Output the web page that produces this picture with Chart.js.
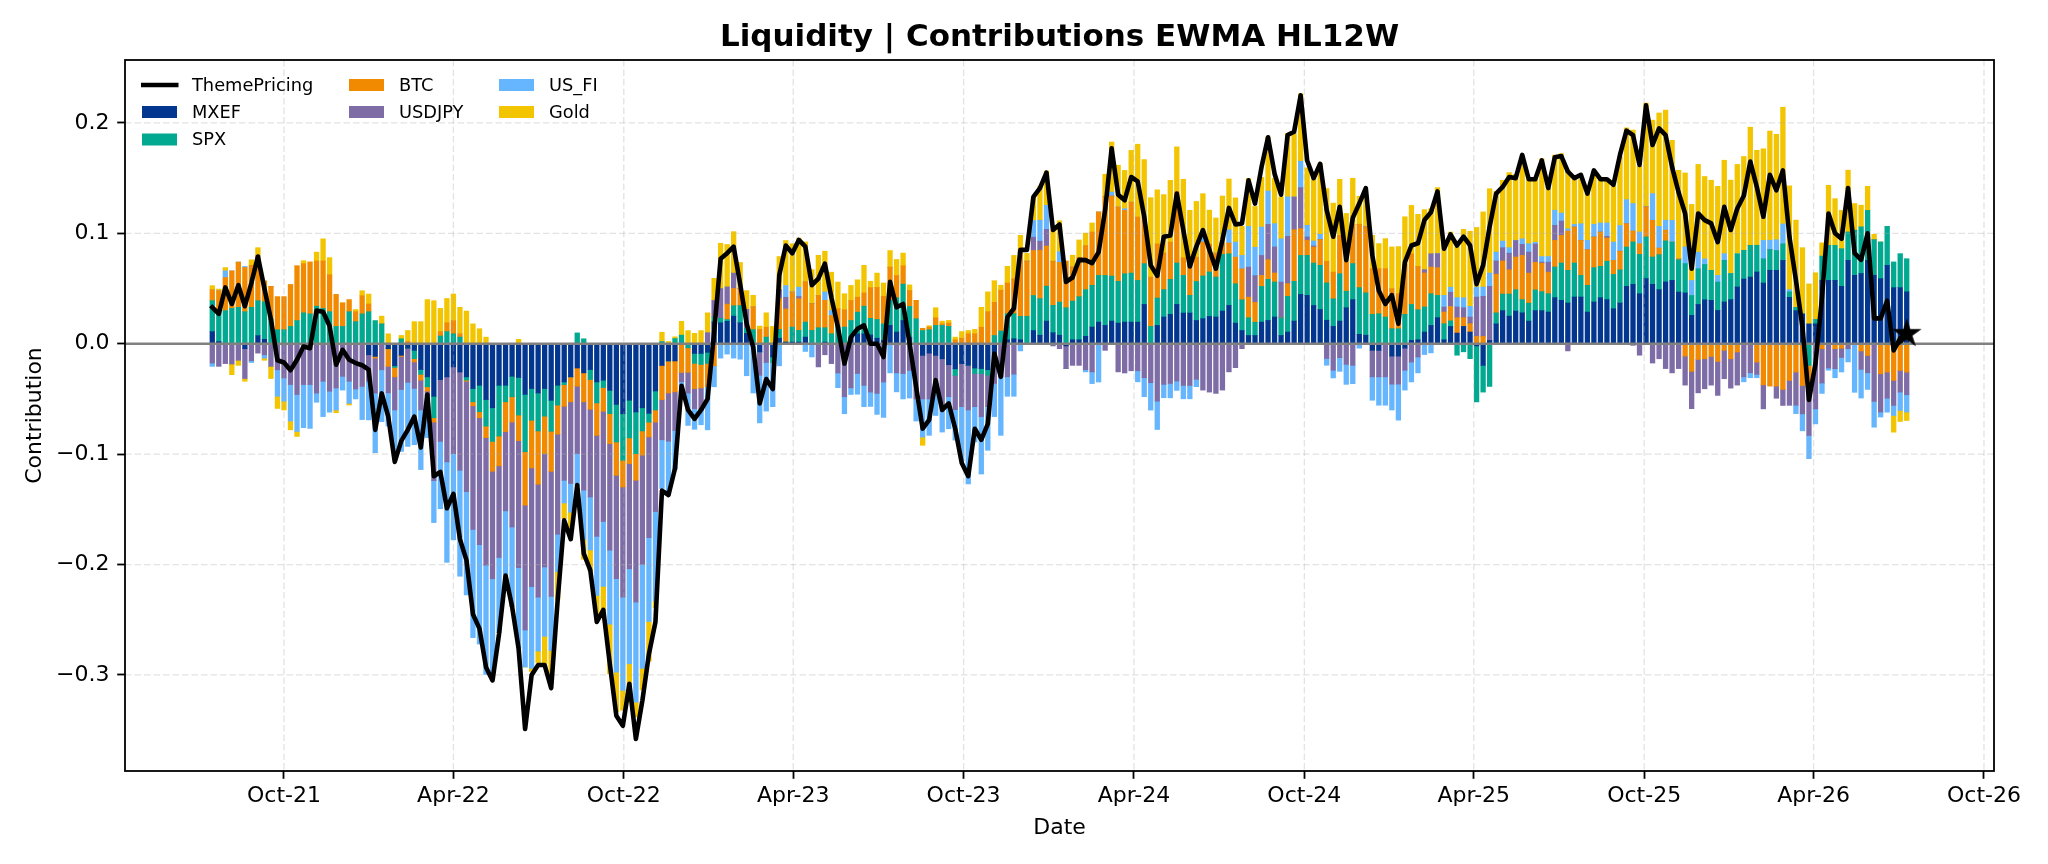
<!DOCTYPE html>
<html><head><meta charset="utf-8">
<script src="https://cdn.jsdelivr.net/npm/chart.js@4.4.1/dist/chart.umd.min.js"></script>
<style>html,body{margin:0;padding:0;background:#fff;}canvas{display:block;}</style>
</head><body>
<canvas id="c" width="2048" height="864"></canvas>
<script>
// ---- categories (weekly observations) ----
const startDate = '2021-07-16';
const weekCount = 261;

// ---- series values (contributions) ----
const mxef = [.011,.002,0,0,0,-.0045,0,.0073,.004,0,
0,0,0,0,0,0,0,0,0,0,
0,0,0,0,-.010,-.0115,0,-.0045,-.020,-.0105,
-.004,-.006,-.0234,-.030,-.0476,-.0325,-.030,-.021,-.0256,-.030,
-.0406,-.0376,-.0506,-.058,-.0376,-.0376,-.0295,-.0306,-.0458,-.0406,
-.0446,-.0406,-.0512,-.0376,-.0346,-.030,-.022,-.0264,-.0234,-.0346,
-.033,-.0422,-.055,-.0634,-.0512,-.0618,-.058,-.063,-.0428,-.0197,
-.0156,-.0156,0,0,-.0088,-.0088,-.0078,.0197,.019,.0203,
.025,.019,.0094,0,-.0074,0,-.012,.005,.0015,.0015,
.0015,.006,0,0,.0015,0,0,0,.006,.009,
.009,.008,.005,.003,.0166,.0106,.021,.006,0,-.0106,
-.0085,-.0106,-.0136,-.019,-.0227,-.018,-.0195,-.022,-.0225,-.0235,
-.018,0,.0036,.0045,.0036,0,.012,.0077,.0205,.010,
.0077,-.002,.0036,.0036,.0067,.0151,.0196,.0166,.0205,.0187,
.0196,.0196,.0196,.0356,0,.0166,.0242,.0266,.0356,.0278,
.0278,.0211,.0227,.0248,.0242,.0296,.0347,.0187,.012,.0075,
.0075,.0196,.0211,.0242,.0075,.0106,.0205,.0447,.0438,.0347,
.031,.0213,.0157,.0205,.0326,.040,.0085,.0077,-.006,-.006,
0,-.0112,-.0112,-.004,.003,.0036,.0106,.0166,.0236,.0036,
.0157,.0097,.0157,.0106,-.002,-.0196,.003,.018,.030,.025,
.0296,.028,.0205,.030,.030,.0287,.0417,.0393,.0369,.0423,
.0423,.0287,.0378,.0417,.040,.0317,.0369,.052,.0538,.0453,
.059,.0538,.049,.056,.0574,.0468,.046,.0257,.0356,.0398,
.0393,.0302,.0378,.040,.0514,.0586,.0604,.065,.055,.0665,
.0665,.0755,.042,.030,.027,.018,.018,.0574,.0574,.0574,
.052,.0755,.062,.0636,.0755,.062,.059,.071,.0508,.0508,
.047];

const spx = [.028,.027,.030,.032,.033,.029,.033,.0317,.034,.022,
.0127,.0127,.0157,.021,.028,.027,.034,.032,.029,.0157,
.0157,.029,.020,.027,.029,.021,.018,0,-.0015,.0045,
0,-.0075,-.0043,-.009,-.0194,.007,.011,.009,.006,-.003,
-.012,-.024,-.024,-.0305,-.046,-.015,-.0185,-.034,-.052,-.0287,
-.0344,-.025,-.0281,-.018,-.0024,0,.0098,.0045,-.009,-.019,
-.0067,-.0211,-.034,-.0422,-.0341,-.0377,-.021,-.008,-.0172,.002,
0,.0047,.0078,-.0037,-.009,-.010,-.010,.0045,.004,.0016,
.0094,.0156,.0047,.0128,0,.006,-.005,.008,0,.0136,
.0106,.0136,.0121,.0145,.013,.009,.0151,.0151,.0151,.0196,
.025,.015,.017,.015,.0227,.031,.033,.0278,.0227,.012,
.0127,.0166,.0166,.0157,-.006,0,0,-.005,-.0045,-.005,
.0075,.0115,.0236,.0227,.0212,.0248,.0317,.0332,.0317,.0248,
.030,.0326,.035,.039,.0423,.0378,.0423,.0453,.0408,.0378,
.0438,.0444,.0378,.0369,.0157,.0248,.0248,.0317,.0375,.0341,
.016,.0353,.0387,.0402,.0362,.0513,.0468,.0356,.0278,.016,
.012,.0323,.0372,.0317,.016,.0323,.036,.0353,.0363,.0384,
.040,.0338,.025,.0429,.015,.0326,.0423,.0384,.0266,.0272,
.0242,.0136,.0136,.0266,.0326,.0272,.0227,.0287,.0202,.0145,
.005,-.0104,-.0073,-.0135,-.0507,-.0242,-.0387,.010,.015,.020,
.0193,.012,.0163,.0187,.0172,.0166,.0278,.0338,.0296,.0308,
.0196,.0242,.0311,.0284,.0347,.0311,.030,.0356,.0384,.0356,
.0378,.0248,.0317,.0372,.0347,.0293,.0266,.018,.0323,.032,
.0272,.0257,.0378,.0236,.030,.026,.0287,.0242,.022,.0187,
.018,.015,.005,.003,0,-.0196,.004,.022,.0317,.0317,
.0341,.0257,.0408,.0423,.0453,.0323,.0332,.0353,.0233,.0308,
.030];

const btc = [.010,.019,.030,.034,.041,.040,.038,.041,.019,.030,
.030,.030,.038,.0497,.0445,.047,.041,.043,.0335,.029,
.0213,.011,.009,.0165,.007,-.0015,0,-.016,-.0085,-.001,
.002,-.003,-.0053,-.004,-.004,.004,.008,.012,.003,-.001,
-.0036,-.0054,-.0105,-.027,-.027,-.027,-.023,-.0232,-.0485,-.0432,
-.0483,-.0338,-.0363,-.0263,-.0197,-.0226,-.0165,-.0262,-.027,-.0294,
-.0215,-.0272,-.0302,-.0242,-.0233,-.0242,-.022,-.0134,-.011,-.031,
-.029,-.028,-.026,-.0222,-.0228,-.0212,-.0212,-.020,0,.014,
.0156,.0156,0,.0205,.013,.009,0,.028,.030,.0317,
.0287,.0363,.0242,.0293,.0248,.0166,.0166,.0157,.0181,.0136,
.012,.0278,.029,.025,.030,.0202,.0166,.0145,.0166,.002,
.0024,.0069,.0015,.003,.0036,.005,.009,.009,.015,.029,
.030,.037,.0278,.0317,.0583,.050,.0408,.0438,.0363,.040,
.036,.0424,.031,.0357,.040,.0483,.0574,.0716,.0725,.0674,
.0574,.0643,.0574,.0423,.0447,.049,.0332,.0338,.0644,.016,
.0287,.022,.0308,.025,.0218,.0103,.0097,.0242,.0281,.0187,
.018,.010,.0178,.0082,0,.0115,.0468,.0242,.0136,.0145,
.0233,.0196,.0242,.0347,.0264,.0353,.0574,.0598,.0414,.0408,
.0438,.0363,.0317,.045,.0459,.0393,.0308,.0242,.0251,.0106,
.013,.0139,.0079,.0076,.0066,.0066,0,.035,.030,.022,
.0296,.040,.0272,.025,.0257,.0196,.0242,.025,.0356,.0326,
.0317,.0323,.0278,.0311,.0211,.0127,.0169,.0211,.010,.0097,
.0272,.0332,.006,.0097,0,.001,-.0112,-.025,-.0142,-.0136,
-.0115,-.016,-.006,-.0136,-.0075,0,0,-.0166,-.0372,-.0384,
-.0384,-.0414,-.0332,-.0257,-.0378,-.0182,0,-.0045,0,-.0045,
-.004,0,0,-.0066,-.0106,0,-.0272,-.0257,-.0332,-.0242,
-.0257];

const usdjpy = [-.0175,-.0205,-.018,-.0184,-.015,-.027,-.0154,-.0085,-.010,-.0205,
-.0236,-.031,-.037,-.046,-.037,-.037,-.0447,-.034,-.043,-.040,
-.0296,-.034,-.041,-.0387,-.024,-.0317,-.0236,-.024,-.030,-.030,
-.031,-.024,-.027,-.004,-.053,-.056,-.077,-.0786,-.089,-.100,
-.112,-.115,-.1155,-.0974,-.083,-.0718,-.095,-.115,-.113,-.1075,
-.1022,-.1028,-.1133,-.0907,-.067,-.074,-.061,-.080,-.0794,-.0915,
-.0998,-.0965,-.0936,-.0997,-.0952,-.1103,-.099,-.0912,-.081,-.0363,
-.0437,-.035,-.0085,-.0188,-.0182,-.020,.010,.015,.027,.0156,
.014,0,.017,0,-.0212,-.017,0,.008,.0106,0,
.002,0,0,-.021,-.010,-.018,-.0265,-.048,-.040,-.027,
-.0377,-.0438,-.045,-.0347,0,-.0264,-.027,-.0242,-.050,-.0394,
-.0415,-.0272,-.0414,-.029,-.031,-.039,-.0405,-.030,-.039,-.0285,
-.018,-.030,-.030,-.0276,0,0,.012,.0082,.0151,-.002,
-.0045,-.0206,-.0196,-.0196,-.0235,-.0255,0,-.006,0,-.0255,
-.0265,-.0245,-.0245,-.0308,-.0353,-.052,-.0368,-.036,-.0338,-.0378,
-.0378,-.0323,-.042,-.0438,-.045,-.042,-.0255,-.0217,-.0045,.0272,
.0242,.0181,.032,.0236,.0323,.0429,.0296,.0372,.003,.001,
0,-.0134,-.024,-.0126,-.0187,-.0196,0,0,-.024,-.024,
-.030,-.0254,-.0254,-.020,-.0166,-.012,.003,.012,.0127,.0045,
.013,.0097,.009,.006,.0357,.0363,.049,.012,.012,.015,
.015,.010,.019,.0166,.001,.009,.0136,.013,-.0065,0,
0,0,0,0,.0015,0,0,0,-.0015,-.0104,
0,-.0175,-.0136,-.0225,-.0264,-.0225,-.0263,-.0338,-.0303,-.0272,
-.026,-.0308,-.0257,-.0266,-.030,-.030,-.0263,-.0112,-.0218,0,
-.011,-.0145,-.0226,-.030,-.0257,-.0453,-.059,-.0311,-.022,-.0181,
-.0085,-.0045,0,-.0166,-.0157,-.0523,-.0347,-.0236,-.0227,-.0196,
-.0205];

const usFi = [-.003,0,.006,0,0,.001,-.0016,0,-.003,0,
-.024,-.021,-.033,-.0335,-.039,-.0397,-.0083,-.032,-.019,-.020,
-.0124,-.020,-.009,-.030,-.035,-.054,-.047,-.030,-.045,-.056,
-.058,-.051,-.054,-.038,-.038,-.061,-.091,-.078,-.096,-.0935,
-.098,-.090,-.099,-.089,-.068,-.058,-.072,-.073,-.0335,-.074,
-.0489,-.0628,-.049,-.034,-.0206,-.026,-.0285,-.0446,-.048,-.0535,
-.0588,-.067,-.0847,-.0845,-.0861,-.0906,-.094,-.076,-.081,-.0441,
-.0486,-.0352,-.006,-.0293,-.0187,-.0134,-.039,-.019,-.013,-.0094,
-.013,-.014,-.029,-.0446,-.0431,-.044,-.040,-.02,.0106,0,
.0085,-.007,-.012,0,.0076,.0045,-.0133,-.0154,-.006,-.0187,
-.0193,-.013,-.019,-.032,-.0264,-.0172,-.023,-.025,-.020,-.0346,
-.033,-.0272,-.025,-.029,-.0276,-.049,-.067,-.032,-.052,-.0395,
-.030,-.053,-.0176,-.020,-.0065,0,.0151,.019,.0218,0,
.0097,0,0,0,-.002,-.0106,-.0347,0,.0036,0,
.0015,0,-.010,-.0172,-.0248,-.0257,-.0121,-.013,-.0085,-.0121,
-.0121,-.0066,.005,0,0,0,.012,.0136,.0121,.0369,
.0257,.0257,.0302,.0211,.0393,.0357,0,.0239,.0106,.0045,
.0048,-.0061,-.007,-.0124,-.0181,-.0166,-.004,0,-.0212,-.0257,
-.0257,-.0234,-.0326,-.018,-.018,-.0144,-.0098,-.0083,0,.0106,
.0045,.0085,.009,.0097,.009,.0085,.012,.008,.006,.005,
0,.005,.0076,.0015,.0051,.0051,.0136,.0073,.002,.0024,
.0151,.0085,.0115,.0082,.0121,.0166,.0233,.0218,.0248,.0106,
0,.0242,.0196,.009,.0196,0,.0151,.0136,.0151,.0051,
0,.006,.006,0,0,-.0045,-.0045,-.003,.0166,.0085,
.0097,.018,.002,-.0076,-.0154,-.021,-.0136,-.0094,-.002,-.0082,
-.0131,-.012,-.044,-.026,-.0151,-.0233,-.0045,-.0127,-.0091,-.0166,
-.0157];

const gold = [.0036,.0015,.003,-.0096,-.0046,-.0025,.005,.007,-.002,-.011,
-.011,-.008,-.008,-.0045,.0027,0,.008,.020,.0155,-.0025,
0,-.0015,.002,.0045,.009,0,.007,.009,0,.003,
.010,.020,.020,.040,.039,.021,.022,.024,.024,.0296,
.018,.0136,.006,0,0,0,0,.004,0,-.003,
-.0106,-.025,-.030,-.025,-.0141,-.017,0,-.018,-.019,-.022,
-.0217,-.045,-.036,-.018,-.0347,-.0134,-.0195,-.036,-.006,.0084,
.002,.0016,.0125,.0119,.0094,.0119,.018,.020,.041,.0384,
.0375,.0234,.017,.0106,.003,.013,.0157,.03,.0408,.0438,
.0444,.0363,.0308,.0363,.0369,.0347,.0242,.0145,.0136,.0157,
.025,.0058,.013,.012,.0151,.0145,.0115,.005,0,-.0074,
.0012,.0091,.0024,.0024,.0024,.006,.003,.004,.018,.018,
.0196,.0045,.0151,.0211,.0151,.007,.0211,.0308,.031,.028,
.028,0,.0106,.0157,.0112,.0082,0,.020,.0453,.0378,
.0347,.0468,.0659,.052,.0719,.049,.0529,.0559,.0408,.071,
.0483,.0505,.0387,.031,.0317,.0426,.046,.040,.0263,.0432,
.0369,.045,.049,.041,.0378,.0574,.0574,.061,.052,.0604,
.064,.0659,.0625,.0508,.044,.042,.0254,.0278,.0302,.0227,
.0272,.0378,.0427,.0434,.0438,.0471,.0544,.0408,.0598,.050,
.050,.046,.062,.068,.054,.068,.0764,.055,.055,.068,
.060,.072,.058,.0565,.0885,.063,.050,.0538,.0529,.0414,
.040,.0423,.048,.040,.040,.0505,.0625,.065,.0665,.0595,
.094,.0665,.1027,.0997,.0725,.080,.067,.0689,.0794,.0746,
.0816,.0807,.0846,.0846,.081,.085,.107,.086,.083,.099,
.0955,.1057,.094,.079,.060,.0362,.0423,.012,.0544,.0423,
.0347,.056,.0242,.0196,.0218,.0048,0,0,-.0151,-.010,
-.0076];

const themePricing = [.033,.027,.051,.036,.053,.034,.055,.079,.050,.022,
-.015,-.017,-.024,-.0145,-.0025,-.004,.030,.029,.016,-.019,
-.0055,-.0145,-.0175,-.0195,-.0235,-.078,-.045,-.066,-.107,-.088,
-.078,-.066,-.094,-.046,-.12,-.116,-.149,-.136,-.177,-.196,
-.245,-.258,-.293,-.305,-.263,-.21,-.238,-.276,-.349,-.30,
-.291,-.291,-.312,-.232,-.16,-.177,-.128,-.19,-.205,-.252,
-.241,-.29,-.337,-.346,-.308,-.358,-.323,-.281,-.252,-.133,
-.137,-.113,-.038,-.060,-.068,-.060,-.050,.01,.077,.082,
.088,.054,.018,-.003,-.054,-.032,-.041,.062,.089,.082,
.094,.088,.053,.059,.0725,.042,.015,-.018,.006,.0135,
.0166,0,0,-.012,.056,.033,.036,0,-.039,-.077,
-.069,-.033,-.060,-.054,-.077,-.108,-.120,-.077,-.087,-.0725,
-.009,-.030,.024,.032,.085,.085,.133,.141,.155,.103,
.108,.056,.060,.076,.0757,.073,.083,.121,.177,.135,
.130,.151,.147,.115,.071,.0615,.097,.098,.136,.103,
.070,.088,.103,.085,.068,.094,.123,.108,.109,.148,
.127,.160,.187,.154,.135,.189,.192,.225,.166,.150,
.163,.121,.097,.124,.0757,.114,.127,.141,.08,.048,
.036,.044,.018,.074,.089,.091,.112,.119,.138,.086,
.099,.089,.097,.089,.054,.071,.106,.136,.142,.151,
.150,.171,.149,.149,.166,.141,.169,.170,.156,.150,
.153,.136,.157,.149,.149,.144,.171,.193,.189,.162,
.216,.180,.195,.189,.160,.137,.118,.068,.118,.112,
.109,.092,.124,.103,.1225,.134,.165,.142,.115,.153,
.139,.157,.097,.0575,.015,-.051,-.018,.042,.118,.100,
.095,.141,.082,.076,.100,.023,.023,.039,-.006,.005,
.009];

// ---- tick labels ----
const xTickDates = ['2021-10-01','2022-04-01','2022-10-01','2023-04-01','2023-10-01','2024-04-01','2024-10-01','2025-04-01','2025-10-01','2026-04-01','2026-10-01'];
const xTickLabels = ['Oct-21','Apr-22','Oct-22','Apr-23','Oct-23','Apr-24','Oct-24','Apr-25','Oct-25','Apr-26','Oct-26'];
const yTicks = [-0.3,-0.2,-0.1,0.0,0.1,0.2];

// ---- helpers ----
const DAY = 86400000;
const toDay = s => Date.UTC(+s.slice(0,4), +s.slice(5,7)-1, +s.slice(8,10)) / DAY;
const startDay = toDay(startDate);
const barDays = Array.from({length: weekCount}, (_, i) => startDay + 7 * i);
const tickDays = xTickDates.map(toDay);
const barWidthDays = 5;
const padDays = 0.05 * (barDays[weekCount-1] - barDays[0] + barWidthDays) + barWidthDays / 2;

const colors = {MXEF:'#03378F', SPX:'#00A98F', BTC:'#F18A00', USDJPY:'#7E6CA7', US_FI:'#65B6FE', Gold:'#F2C500'};
const series = [['MXEF', mxef], ['SPX', spx], ['BTC', btc], ['USDJPY', usdjpy], ['US_FI', usFi], ['Gold', gold]];

const starImg = (() => {
  const c = document.createElement('canvas'); c.width = 32; c.height = 32;
  const g = c.getContext('2d');
  const R = 13, r = R * 0.381966;
  g.beginPath();
  for (let k = 0; k < 10; k++) {
    const a = -Math.PI / 2 + k * Math.PI / 5;
    const rr = k % 2 === 0 ? R : r;
    const px = 16 + rr * Math.cos(a), py = 16 + rr * Math.sin(a);
    if (k === 0) g.moveTo(px, py); else g.lineTo(px, py);
  }
  g.closePath(); g.fillStyle = '#000'; g.fill();
  g.lineWidth = 1.6; g.strokeStyle = '#000'; g.lineJoin = 'miter'; g.stroke();
  return c;
})();

const datasets = series.map(([name, vals]) => ({
  type: 'bar', label: name,
  data: vals.map((v, i) => ({x: barDays[i], y: v})),
  backgroundColor: colors[name], borderWidth: 0, barThickness: 4.65,
  stack: 'contrib', order: 1
}));
datasets.push({
  type: 'line', label: 'ThemePricing',
  data: themePricing.map((v, i) => ({x: barDays[i], y: v})),
  borderColor: '#000', borderWidth: 4.6, tension: 0, fill: false,
  borderJoinStyle: 'round', borderCapStyle: 'square',
  pointRadius: ctx => ctx.dataIndex === weekCount - 1 ? 13 : 0,
  pointStyle: ctx => ctx.dataIndex === weekCount - 1 ? starImg : 'circle',
  pointBackgroundColor: '#000', pointBorderColor: '#000',
  stack: 'theme', order: 0
});

const FONT = '"DejaVu Sans", "Liberation Sans", sans-serif';

const overlay = {
  id: 'overlay',
  beforeDatasetDraw(chart, args) {
    if (args.meta.type !== 'line') return;
    const {ctx, chartArea: a, scales: {x, y}} = chart;
    ctx.save();
    ctx.beginPath(); ctx.rect(a.left, a.top, a.right - a.left, a.bottom - a.top); ctx.clip();
    ctx.strokeStyle = 'rgba(176,176,176,0.35)'; ctx.lineWidth = 1.3; ctx.setLineDash([6.6, 2.9]);
    tickDays.forEach(d => { const px = x.getPixelForValue(d); ctx.beginPath(); ctx.moveTo(px, a.top); ctx.lineTo(px, a.bottom); ctx.stroke(); });
    yTicks.forEach(v => { const py = y.getPixelForValue(v); ctx.beginPath(); ctx.moveTo(a.left, py); ctx.lineTo(a.right, py); ctx.stroke(); });
    ctx.setLineDash([]);
    ctx.strokeStyle = '#808080'; ctx.lineWidth = 2.4;
    const z = y.getPixelForValue(0);
    ctx.beginPath(); ctx.moveTo(a.left, z); ctx.lineTo(a.right, z); ctx.stroke();
    ctx.restore();
  },
  afterDraw(chart) {
    const {ctx, chartArea: a} = chart;
    ctx.save();
    ctx.strokeStyle = '#000'; ctx.lineWidth = 1.8;
    ctx.strokeRect(a.left, a.top, a.right - a.left, a.bottom - a.top);
    const cx = (a.left + a.right) / 2;
    ctx.fillStyle = '#000'; ctx.textAlign = 'center'; ctx.textBaseline = 'middle';
    ctx.font = 'bold 31px ' + FONT;
    ctx.fillText('Liquidity | Contributions EWMA HL12W', cx, 38);
    ctx.font = '22px ' + FONT;
    ctx.fillText('Date', cx, 828);
    ctx.save(); ctx.translate(35, (a.top + a.bottom) / 2); ctx.rotate(-Math.PI / 2);
    ctx.fillText('Contribution', 0, 0); ctx.restore();
    const items = [
      ['ThemePricing', null, 0, 0], ['MXEF', colors.MXEF, 0, 1], ['SPX', colors.SPX, 0, 2],
      ['BTC', colors.BTC, 1, 0], ['USDJPY', colors.USDJPY, 1, 1],
      ['US_FI', colors.US_FI, 2, 0], ['Gold', colors.Gold, 2, 1]
    ];
    const colX = [142, 349, 499], rowY = [85, 112, 139.5];
    ctx.font = '17.8px ' + FONT; ctx.textAlign = 'left'; ctx.textBaseline = 'middle';
    items.forEach(([label, col, c, r]) => {
      const hx = colX[c], hy = rowY[r];
      if (col === null) {
        ctx.strokeStyle = '#000'; ctx.lineWidth = 4.6; ctx.lineCap = 'butt';
        ctx.beginPath(); ctx.moveTo(hx - 1, hy); ctx.lineTo(hx + 36.5, hy); ctx.stroke();
      } else {
        ctx.fillStyle = col; ctx.fillRect(hx, hy - 6, 35, 12);
      }
      ctx.fillStyle = '#000';
      ctx.fillText(label, hx + 50, hy + 1);
    });
    ctx.restore();
  }
};

new Chart(document.getElementById('c').getContext('2d'), {
  data: {datasets},
  options: {
    responsive: false, animation: false, devicePixelRatio: 1, events: [],
    layout: {padding: {left: 0, right: 54, top: 60, bottom: 0}},
    plugins: {legend: {display: false}, tooltip: {enabled: false}, title: {display: false}},
    scales: {
      x: {
        type: 'linear', stacked: true, bounds: 'data', offset: false,
        min: barDays[0] - padDays, max: barDays[weekCount - 1] + padDays,
        afterBuildTicks: s => { s.ticks = tickDays.map(v => ({value: v})); },
        afterFit: s => { s.height = 93; },
        ticks: {autoSkip: false, maxRotation: 0, padding: 4, color: '#000',
          font: {family: FONT, size: 22}, callback: (v, i) => xTickLabels[i]},
        grid: {display: true, offset: false, drawOnChartArea: false, drawTicks: true, tickLength: 7.8, tickWidth: 1.8, tickColor: '#000'},
        border: {display: false}
      },
      y: {
        type: 'linear', stacked: true, bounds: 'data', min: -0.387, max: 0.257,
        afterBuildTicks: s => { s.ticks = yTicks.map(v => ({value: v})); },
        afterFit: s => { s.width = 125; },
        ticks: {autoSkip: false, padding: 7.8, color: '#000', font: {family: FONT, size: 22},
          callback: v => (v < -1e-9 ? '\u2212' : '') + Math.abs(v).toFixed(1)},
        grid: {display: true, offset: false, drawOnChartArea: false, drawTicks: true, tickLength: 7.8, tickWidth: 1.8, tickColor: '#000'},
        border: {display: false}
      }
    }
  },
  plugins: [overlay]
});
</script>
</body></html>
